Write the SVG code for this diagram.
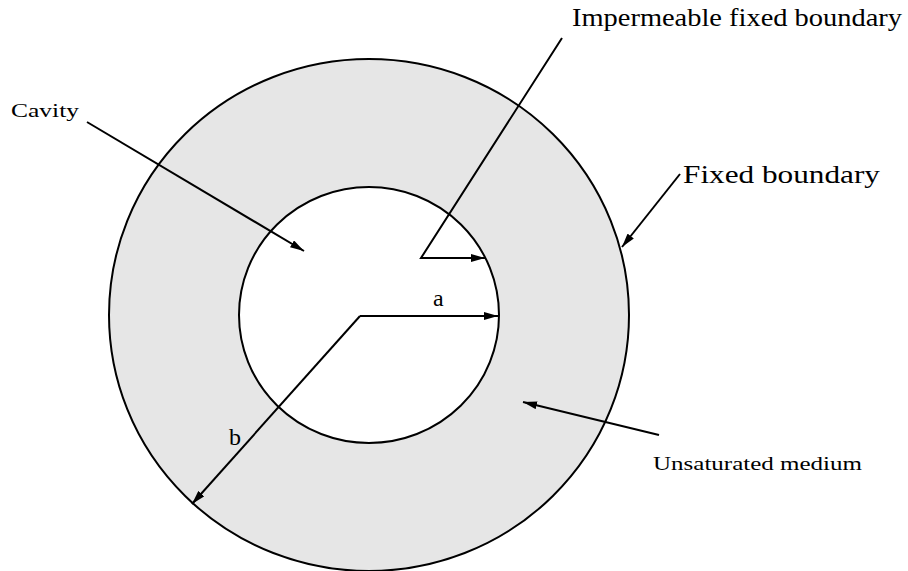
<svg xmlns="http://www.w3.org/2000/svg" width="908" height="571" viewBox="0 0 908 571">
<style>
.t{font-family:"Liberation Serif","Times New Roman",serif;fill:#000}
.ln{stroke:#000;stroke-width:2;fill:none}
.ring{stroke:#000;stroke-width:2}
</style>
<defs>
<marker id="ah" viewBox="0 0 14 8" refX="14" refY="4" markerWidth="14" markerHeight="8" markerUnits="userSpaceOnUse" orient="auto">
<path d="M0,0 L14,4 L0,8 z" fill="#000"/>
</marker>
</defs>
<rect width="908" height="571" fill="#fff"/>
<g id="medium">
<ellipse class="ring" cx="369" cy="315" rx="260" ry="256" fill="#e6e6e6"/>
</g>
<g id="cavity">
<ellipse class="ring" cx="369" cy="315" rx="130" ry="128" fill="#fff"/>
</g>
<g id="connectors">
<line class="ln" x1="87" y1="122" x2="304" y2="251" marker-end="url(#ah)"/>
<polyline class="ln" points="562,38 421,258 485,258" marker-end="url(#ah)"/>
<line class="ln" x1="680" y1="174" x2="622" y2="247" marker-end="url(#ah)"/>
<line class="ln" x1="360" y1="316" x2="498" y2="316" marker-end="url(#ah)"/>
<line class="ln" x1="360" y1="316" x2="192" y2="504" marker-end="url(#ah)"/>
<line class="ln" x1="659" y1="435" x2="523" y2="402" marker-end="url(#ah)"/>
</g>
<g id="label-impermeable"><text class="t" x="572" y="26" font-size="25" textLength="330" lengthAdjust="spacingAndGlyphs">Impermeable fixed boundary</text></g>
<g id="label-fixed"><text class="t" x="683" y="183" font-size="25" textLength="197" lengthAdjust="spacingAndGlyphs">Fixed boundary</text></g>
<g id="label-cavity"><text class="t" x="11" y="117" font-size="19" textLength="68" lengthAdjust="spacingAndGlyphs">Cavity</text></g>
<g id="label-unsat"><text class="t" x="653" y="470" font-size="18" textLength="209" lengthAdjust="spacingAndGlyphs">Unsaturated medium</text></g>
<g id="label-a"><text class="t" x="433" y="306" font-size="24">a</text></g>
<g id="label-b"><text class="t" x="229" y="445" font-size="24">b</text></g>
</svg>
